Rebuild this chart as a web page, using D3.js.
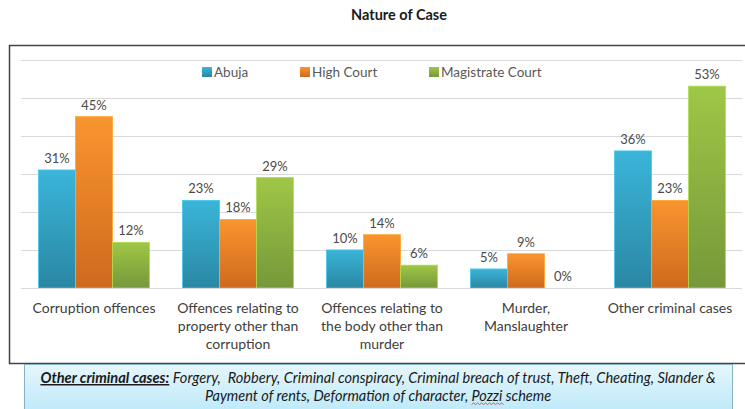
<!DOCTYPE html>
<html><head><meta charset="utf-8">
<script src="https://cdn.jsdelivr.net/npm/d3@7"></script>
<style>
html,body{margin:0;padding:0;background:#fff;}
svg{display:block;}
</style></head>
<body>
<script>
const categories = [
  ["Corruption offences"],
  ["Offences relating to", "property other than", "corruption"],
  ["Offences relating to", "the body other than", "murder"],
  ["Murder,", "Manslaughter"],
  ["Other criminal cases"]
];
const seriesNames = ["Abuja", "High Court", "Magistrate Court"];
const abuja = [31, 23, 10, 5, 36];
const highCourt = [45, 18, 14, 9, 23];
const magistrate = [12, 29, 6, 0, 53];
const gridTicks = [0, 10, 20, 30, 40, 50, 60];
const titleText = "Nature of Case";
const noteLead = "Other criminal cases:";
const noteLine1 = " Forgery,  Robbery, Criminal conspiracy, Criminal breach of trust, Theft, Cheating, Slander &";
const noteLine2a = "Payment of rents, Deformation of character, ";
const noteLine2b = "Pozzi";
const noteLine2c = " scheme";

const series = [abuja, highCourt, magistrate];
const colors = [
  ["#3ab5d9", "#2a87a3"],
  ["#f9952f", "#cf691e"],
  ["#9fc746", "#76983a"]
];
const font = "Lato, 'Open Sans', sans-serif";

const W = 745, H = 409;
const svg = d3.select("body").append("svg").attr("width", W).attr("height", H);
const defs = svg.append("defs");
colors.forEach((c, i) => {
  const g = defs.append("linearGradient").attr("id", "g" + i)
    .attr("x1", 0).attr("y1", 0).attr("x2", 0).attr("y2", 1);
  g.append("stop").attr("offset", "0%").attr("stop-color", c[0]);
  g.append("stop").attr("offset", "100%").attr("stop-color", c[1]);
});
const ng = defs.append("linearGradient").attr("id", "noteg")
  .attr("x1", 0).attr("y1", 0).attr("x2", 0).attr("y2", 1);
ng.append("stop").attr("offset", "0%").attr("stop-color", "#e6f6fc");
ng.append("stop").attr("offset", "100%").attr("stop-color", "#b2e6f8");

// title
svg.append("text").attr("x", 399).attr("y", 20).attr("text-anchor", "middle")
  .attr("font-family", font).attr("font-weight", "bold").attr("font-size", 14.5)
  .attr("fill", "#1a1a1a").text(titleText);

// chart frame
svg.append("rect").attr("x", 9.5).attr("y", 45.5).attr("width", 760).attr("height", 318)
  .attr("fill", "#fff").attr("stroke", "#444").attr("stroke-width", 1.5);

const x = d3.scaleBand().domain(d3.range(categories.length)).range([22, 742])
  .paddingInner(0.229).paddingOuter(0.1146);
const xs = d3.scaleBand().domain(d3.range(series.length)).range([0, x.bandwidth()]);
const y = d3.scaleLinear().domain([0, 60]).range([288, 59.5]);

// gridlines
svg.append("g").selectAll("line").data(gridTicks).join("line")
  .attr("x1", 21).attr("x2", 742)
  .attr("y1", d => Math.round(y(d)) + 0.5).attr("y2", d => Math.round(y(d)) + 0.5)
  .attr("stroke", "#d9d9d9").attr("stroke-width", 1);

// bars
const gBars = svg.append("g");
series.forEach((vals, si) => {
  gBars.append("g").selectAll("rect").data(vals).join("rect")
    .attr("x", (d, i) => x(i) + xs(si))
    .attr("y", d => y(d))
    .attr("width", xs.bandwidth())
    .attr("height", d => y(0) - y(d))
    .attr("fill", "url(#g" + si + ")")
    .attr("stroke", d3.color(colors[si][0]).brighter(0.3))
    .attr("stroke-width", 0.8);
  gBars.append("g").selectAll("text").data(vals).join("text")
    .attr("x", (d, i) => x(i) + xs(si) + xs.bandwidth() / 2)
    .attr("y", d => y(d) - 7)
    .attr("text-anchor", "middle")
    .attr("font-family", font).attr("font-size", 13).attr("fill", "#4a4a4a")
    .text(d => d + "%");
});

// re-draw baseline on top
svg.append("line").attr("x1", 21).attr("x2", 742)
  .attr("y1", Math.round(y(0)) + 0.5).attr("y2", Math.round(y(0)) + 0.5)
  .attr("stroke", "#d9d9d9");

// legend
const legendX = [202, 300, 429];
const lg = svg.append("g");
seriesNames.forEach((n, i) => {
  lg.append("rect").attr("x", legendX[i]).attr("y", 67).attr("width", 10).attr("height", 10)
    .attr("fill", "url(#g" + i + ")");
  lg.append("text").attr("x", legendX[i] + 12).attr("y", 77)
    .attr("font-family", font).attr("font-size", 13.5).attr("fill", "#595959").text(n);
});

// x labels
const xl = svg.append("g");
categories.forEach((lines, i) => {
  const t = xl.append("text").attr("text-anchor", "middle")
    .attr("font-family", font).attr("font-size", 14).attr("fill", "#404040");
  lines.forEach((ln, j) => {
    t.append("tspan").attr("x", x(i) + x.bandwidth() / 2).attr("y", 313 + j * 18).text(ln);
  });
});

// note box
svg.append("rect").attr("x", 24.5).attr("y", 364.5).attr("width", 708).attr("height", 60)
  .attr("fill", "url(#noteg)").attr("stroke", "#86b3c4").attr("stroke-width", 1);
const n1 = svg.append("text").attr("x", 378).attr("y", 383).attr("text-anchor", "middle")
  .attr("xml:space", "preserve").style("white-space", "pre")
  .attr("font-family", font).attr("font-style", "italic").attr("font-size", 14.6).attr("fill", "#1a1a1a");
n1.append("tspan").attr("font-weight", "bold").attr("text-decoration", "underline").text(noteLead);
n1.append("tspan").text(noteLine1);
const n2 = svg.append("text").attr("x", 378).attr("y", 401).attr("text-anchor", "middle")
  .attr("xml:space", "preserve").style("white-space", "pre")
  .attr("font-family", font).attr("font-style", "italic").attr("font-size", 14.5).attr("fill", "#1a1a1a");
n2.append("tspan").text(noteLine2a);
n2.append("tspan").text(noteLine2b);
n2.append("tspan").text(noteLine2c);
// spellcheck squiggle under "Pozzi"
const sx = n2.node().getStartPositionOfChar(noteLine2a.length).x;
const ex = n2.node().getEndPositionOfChar(noteLine2a.length + noteLine2b.length - 1).x;
let p = "M" + sx + "," + 404.5;
for (let xx = sx, k = 0; xx < ex; xx += 2, k++) p += "L" + (xx + 2) + "," + (k % 2 ? 404.5 : 403);
svg.append("path").attr("d", p).attr("fill", "none").attr("stroke", "#e03030").attr("stroke-width", 0.8);
</script>
</body></html>
